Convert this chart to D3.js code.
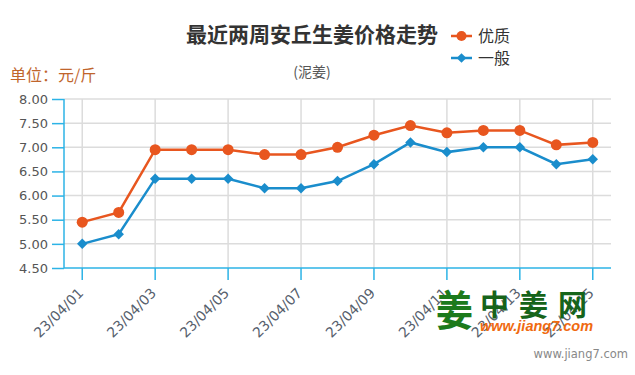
<!DOCTYPE html>
<html><head><meta charset="utf-8">
<script src="https://cdn.jsdelivr.net/npm/d3@7"></script>
<style>
body{margin:0;background:#fff;}
svg{display:block;}
</style></head>
<body>
<svg id="chart" width="635" height="375"></svg>
<script>
const dates = ["23/04/01","23/04/02","23/04/03","23/04/04","23/04/05","23/04/06","23/04/07","23/04/08","23/04/09","23/04/10","23/04/11","23/04/12","23/04/13","23/04/14","23/04/15"];
const premium = [5.45,5.65,6.95,6.95,6.95,6.85,6.85,7.00,7.25,7.45,7.30,7.35,7.35,7.05,7.10];
const ordinary = [5.00,5.20,6.35,6.35,6.35,6.15,6.15,6.30,6.65,7.10,6.90,7.00,7.00,6.65,6.75];
const yTicks = [4.5,5.0,5.5,6.0,6.5,7.0,7.5,8.0];
const seriesNames = ["优质","一般"];
const titleText = "最近两周安丘生姜价格走势";
const subtitleText = "(泥姜)";
const unitText = "单位：元/斤";

(function(){
const svg = d3.select("#chart");
const pL = 64, pR = 611, pT = 99, pB = 268;
const orange = "#e8561f", blue = "#1a8dcc", axisBlue = "#2cb3e6", grid = "#dcdcdc";

const x = d3.scaleBand().domain(dates).range([pL, pR]);
const xc = d => x(d) + x.bandwidth()/2;
const y = d3.scaleLinear().domain([4.5, 8.0]).range([pB, pT]);
const labeled = dates.filter((d,i) => i % 2 === 0);

svg.append("g").selectAll("line").data(yTicks.slice(1)).join("line")
  .attr("x1", pL).attr("x2", pR)
  .attr("y1", d => y(d)).attr("y2", d => y(d))
  .attr("stroke", grid).attr("stroke-width", 1.5);
svg.append("g").selectAll("line").data(labeled).join("line")
  .attr("x1", d => xc(d)).attr("x2", d => xc(d))
  .attr("y1", pT).attr("y2", pB)
  .attr("stroke", grid).attr("stroke-width", 1.5);

const yAxis = d3.axisLeft(y).tickValues(yTicks).tickFormat(d3.format(".2f")).tickSize(12).tickPadding(4);
const gy = svg.append("g").attr("transform", `translate(${pL},0)`).call(yAxis);
gy.select(".domain").attr("stroke", axisBlue).attr("stroke-width", 1.5).attr("d", `M0,${pT}V${pB}`);
gy.selectAll(".tick line").attr("stroke", axisBlue).attr("stroke-width", 1.5);
gy.selectAll(".tick text").attr("fill", "#555").style("font-family", "DejaVu Sans").style("font-size", "13px");

const xAxis = d3.axisBottom(x).tickValues(labeled).tickSize(12).tickPadding(4);
const gx = svg.append("g").attr("transform", `translate(0,${pB})`).call(xAxis);
gx.select(".domain").attr("stroke", axisBlue).attr("stroke-width", 1.5).attr("d", `M${pL},0H${pR}`);
gx.selectAll(".tick line").attr("stroke", axisBlue).attr("stroke-width", 1.5);
gx.selectAll(".tick text").attr("fill", "#56606c").style("font-family", "DejaVu Sans").style("font-size", "14px")
  .attr("text-anchor", "end").attr("dy", null).attr("y", 0)
  .attr("transform", "translate(2,26) rotate(-45)");

const line = d3.line().x((d,i) => xc(dates[i])).y(d => y(d));
svg.append("path").datum(ordinary).attr("d", line).attr("fill", "none").attr("stroke", blue).attr("stroke-width", 2.5);
svg.append("path").datum(premium).attr("d", line).attr("fill", "none").attr("stroke", orange).attr("stroke-width", 2.5);
svg.append("g").selectAll("path").data(ordinary).join("path")
  .attr("d", d3.symbol().type(d3.symbolDiamond2).size(70))
  .attr("transform", (d,i) => `translate(${xc(dates[i])},${y(d)})`)
  .attr("fill", blue);
svg.append("g").selectAll("circle").data(premium).join("circle")
  .attr("cx", (d,i) => xc(dates[i])).attr("cy", d => y(d)).attr("r", 5.5)
  .attr("fill", orange);

svg.append("text").attr("x", 312).attr("y", 42).attr("text-anchor", "middle")
  .style("font-family", "Noto Sans CJK SC").style("font-weight", "bold").style("font-size", "21px")
  .attr("fill", "#333").text(titleText);
svg.append("text").attr("x", 312).attr("y", 77).attr("text-anchor", "middle")
  .style("font-family", "Noto Sans CJK SC").style("font-size", "14px")
  .attr("fill", "#555").text(subtitleText);
svg.append("text").attr("x", 10).attr("y", 81)
  .style("font-family", "Noto Sans CJK SC").style("font-size", "16px")
  .attr("fill", "#c0652c").text(unitText);

const leg = svg.append("g");
const legY = [36, 58], legColor = [orange, blue];
seriesNames.forEach((n,i) => {
  leg.append("line").attr("x1", 451).attr("x2", 472).attr("y1", legY[i]).attr("y2", legY[i])
    .attr("stroke", legColor[i]).attr("stroke-width", 2.5);
  if (i === 0) leg.append("circle").attr("cx", 461.5).attr("cy", legY[i]).attr("r", 5).attr("fill", orange);
  else leg.append("path").attr("d", d3.symbol().type(d3.symbolDiamond2).size(60)).attr("transform", `translate(461.5,${legY[i]})`).attr("fill", blue);
  leg.append("text").attr("x", 478).attr("y", legY[i] + 6)
    .style("font-family", "Noto Sans CJK SC").style("font-size", "16px").attr("fill", "#333").text(n);
});

svg.append("text").attr("x", 436).attr("y", 326)
  .style("font-family", "Noto Sans CJK SC").style("font-weight", "bold").style("font-size", "42px")
  .attr("fill", "#1c7a1c").attr("transform", "translate(436,0) scale(0.88,1) translate(-436,0)").text("姜");
svg.append("text").attr("x", 480).attr("y", 316)
  .style("font-family", "Noto Sans CJK SC").style("font-weight", "bold").style("font-size", "29px")
  .style("letter-spacing", "10px")
  .attr("fill", "#16641a").text("中姜网");
svg.append("text").attr("x", 480).attr("y", 331)
  .style("font-family", "Liberation Sans").style("font-weight", "bold").style("font-style", "italic").style("font-size", "14.5px")
  .attr("fill", "#f06a10").text("www.jiang7.com");
svg.append("text").attr("x", 628).attr("y", 358).attr("text-anchor", "end")
  .style("font-family", "DejaVu Sans").style("font-size", "11.5px")
  .attr("fill", "#888").text("www.jiang7.com");
})();
</script>
</body></html>
